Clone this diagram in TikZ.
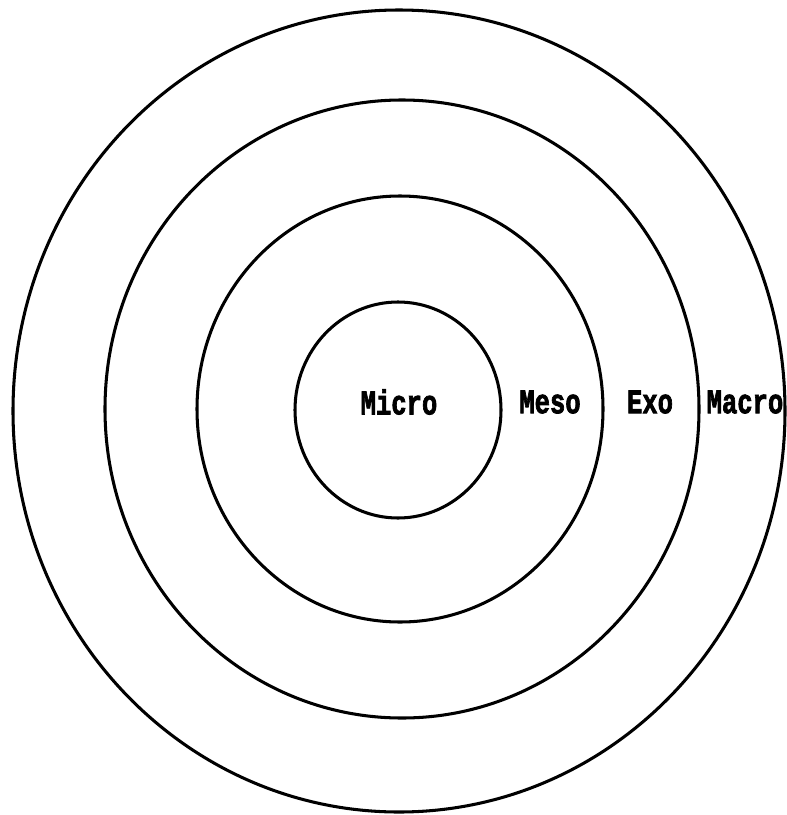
\documentclass[tikz,border=0pt]{standalone}
\usepackage{fontspec}
\usepackage{graphicx}
\newfontfamily\printfont[BoldFont={Liberation Mono Bold},BoldFeatures={FakeBold=2.5}]{Liberation Mono}

\begin{document}
\begin{tikzpicture}[x=0.03cm,y=-0.03cm]
  \tikzstyle{ring}=[draw,line width=2.6pt]
  \tikzstyle{lbl}=[font=\printfont\bfseries\fontsize{21.8}{22}\selectfont,inner sep=0pt]
  \useasboundingbox (0,0) rectangle (787,815);
  \draw[ring] (399,411) ellipse [x radius=386,y radius=401];
  \draw[ring] (402,409) ellipse [x radius=297,y radius=309];
  \draw[ring] (400,409) ellipse [x radius=203,y radius=213];
  \draw[ring] (398,410) ellipse [x radius=103,y radius=108];
  \node[lbl] (micro) at (399,402) {\scalebox{1}[1.35]{Micro}};
  \node[lbl] (meso) at (550,402) {\scalebox{1}[1.35]{Meso}};
  \node[lbl] (exo) at (650,402) {\scalebox{1}[1.35]{Exo}};
  \node[lbl] (macro) at (745,402) {\scalebox{1}[1.35]{Macro}};
\end{tikzpicture}
\end{document}
